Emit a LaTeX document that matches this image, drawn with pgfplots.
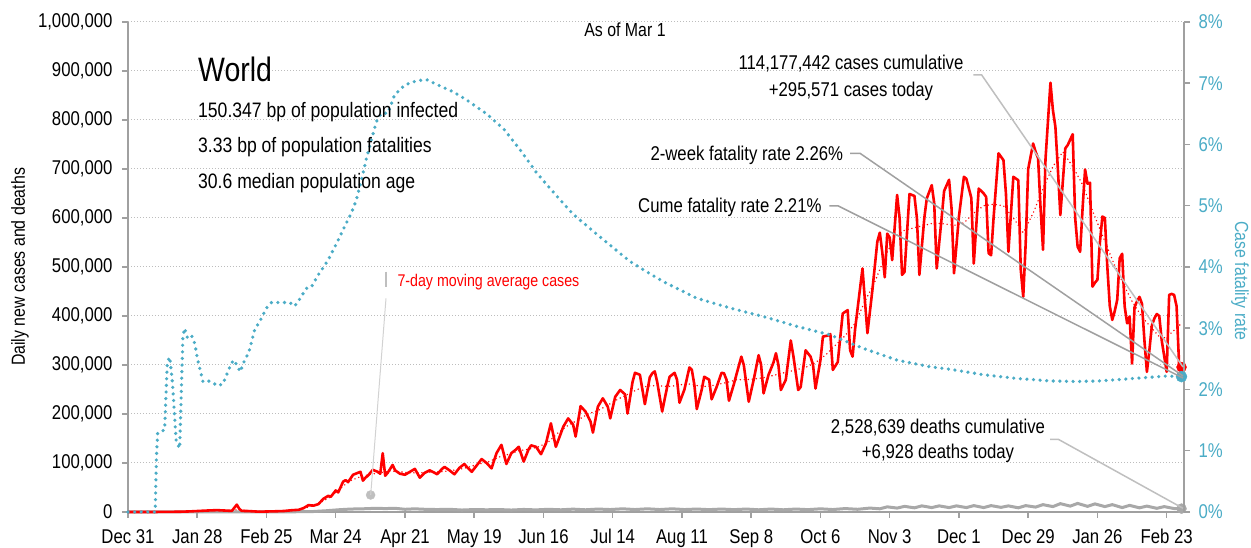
\documentclass[border=0pt]{standalone}
\usepackage{fontspec}
\setmainfont{Liberation Sans}[FakeStretch=0.84]
\usepackage{pgfplots}
\pgfplotsset{compat=1.18}
\definecolor{cfr}{HTML}{4BACC6}
\definecolor{axgray}{HTML}{A0A0A0}
\definecolor{gridgray}{HTML}{BDBDBD}
\definecolor{leader}{HTML}{BFBFBF}
\definecolor{deathgray}{HTML}{A8A8A8}
\newcommand\fs[1]{\fontsize{#1}{#1}\selectfont}

\pgfplotstableread{
d v
0 0
10 0
21 0.5
24 1.0
27 1.7
30 2.5
33 3.2
36 3.8
39 3.0
42 2.3
44 15
45 6.5
46 2.3
49 1.8
53 0.6
56 1.0
60 1.5
63 2.0
66 3.5
69 4.5
71 8
73 14
75 13
77 16
79 27
81 33
82 31
84 44
85 40
87 62
88 65
89 61
91 76
92 78
94 82
95 64
96 70
97 74
99 86
101 82
102 78
103 120
104 74
105 80
107 96
108 85
110 78
112 76
114 82
116 88
118 70
120 80
122 85
124 80
125 77
127 88
128 92
130 85
132 77
134 90
136 98
137 92
139 82
141 95
143 108
145 100
147 89
149 120
151 137
153 98
155 120
157 128
158 133
160 103
162 128
163 136
165 133
167 118
169 140
171 181
173 133
175 160
176 174
178 191
180 178
181 154
183 216
185 205
187 185
188 162
190 215
192 232
194 215
195 191
197 235
199 249
201 240
202 201
204 265
205 284
207 280
209 220
211 275
212 283
213 287
214 265
216 205
218 255
219 276
221 284
222 270
223 223
225 250
227 295
228 290
229 260
230 210
232 250
233 276
235 270
236 230
238 255
240 284
241 283
242 270
243 227
245 261
246 280
248 317
249 300
251 225
253 270
255 320
256 300
257 242
259 280
261 305
262 324
263 300
264 249
266 270
268 350
269 320
271 249
272 255
274 330
276 317
277 300
278 252
280 310
281 358
283 360
284 363
285 290
287 306
289 405
291 412
292 330
293 317
294 373
296 456
297 497
298 430
299 365
301 453
303 552
304 570
305 530
306 479
307 568
308 560
309 514
311 647
312 600
313 484
314 490
316 649
318 645
319 600
320 484
322 600
323 640
325 667
326 630
327 497
329 600
330 655
332 678
333 620
334 487
336 603
338 684
339 680
341 641
342 507
344 660
346 650
347 643
348 528
349 524
350 600
352 732
353 725
354 718
355 650
356 531
358 684
360 677
361 494
362 439
363 550
364 700
366 752
367 735
368 722
369 620
370 535
371 720
373 876
374 820
375 786
376 700
377 606
379 742
380 749
381 760
382 771
383 600
384 541
385 531
386 620
387 699
388 670
389 672
390 460
391 468
392 474
393 550
394 603
395 600
396 500
397 420
398 392
399 410
400 433
401 518
402 527
403 420
404 385
405 399
406 303
407 418
408 430
409 439
410 425
411 350
412 286
413 330
414 380
415 395
416 404
417 400
418 350
420 286
421 443
422 445
423 443
424 420
425 303
426 295.571
}\cases

\pgfplotstableread{
d v
0 0
20 0.3
25 1
30 2.2
35 3.2
40 3.0
44 4.5
48 3.5
52 1.5
56 1.0
60 1.5
65 2.8
70 5
74 12
78 20
81 28
84 40
87 53
90 64
94 72
98 77
102 80
106 84
110 82
114 80
118 80
122 81
126 82
130 84
134 87
138 92
142 98
146 103
150 112
154 118
158 125
162 128
166 133
170 143
174 162
178 177
182 188
186 200
190 207
194 218
198 230
202 240
206 250
210 257
214 258
218 256
222 258
226 262
230 258
234 256
238 260
242 264
246 270
250 270
254 272
258 275
262 280
266 285
270 290
274 295
278 305
282 320
286 340
290 360
294 385
298 430
302 470
306 520
310 560
314 575
318 580
322 585
326 590
330 588
334 585
338 590
342 610
346 625
350 628
354 625
358 600
362 570
366 610
370 660
374 705
378 735
382 705
386 668
390 615
394 565
398 515
402 470
406 430
410 398
414 375
418 352
422 366
426 385
}\ma

\pgfplotstableread{
d v
0 0
20 0.05
30 0.1
40 0.1
44 0.25
50 0.1
60 0.1
70 0.6
75 1.0
80 2.5
85 4.5
90 6
95 6.5
100 7.5
104 7.0
108 7.5
112 5.5
116 6.5
120 5.5
125 5.0
130 5.5
135 4.0
140 5.0
145 4.5
150 5.0
155 4.0
160 5.2
165 4.3
170 5.5
175 4.5
180 5.8
185 4.5
190 6.0
195 5.0
200 6.5
205 5.0
210 6.5
215 5.0
220 6.5
225 5.0
230 6.0
235 4.8
240 6.0
245 4.8
250 6.0
255 4.5
260 6.0
265 4.5
270 6.0
275 4.8
280 6.5
285 5.0
290 7.0
295 5.5
300 8.0
304 6.5
307 10.5
311 8.0
314 11.5
318 8.5
321 12.5
325 9.0
328 12.5
332 9.0
335 12.5
339 9.0
342 13.0
346 9.0
349 13.0
353 9.5
356 12.5
360 8.5
363 13.0
367 10.0
370 15.0
374 11.0
377 17.0
381 12.0
384 17.5
388 11.5
391 16.5
395 11.0
398 15.0
402 9.0
405 13.5
409 8.5
412 12.0
416 7.5
419 11.0
423 7.0
426 6.928
}\deaths

\pgfplotstableread{
d v
0 0
11 0
11.5 0.9
12 1.29
14.8 1.34
15.9 2.45
16.9 2.53
18 2.1
19.5 1.15
20.9 1.04
22.2 2.86
22.9 3.0
24 2.85
25.6 2.89
27 2.75
28.2 2.48
30.3 2.13
31.7 2.15
34 2.12
36.1 2.06
38.4 2.09
41.8 2.43
42.9 2.48
45.4 2.29
47.2 2.48
48.8 2.6
51.2 2.97
53.9 3.16
56 3.33
58 3.42
62.7 3.42
65.4 3.42
67.4 3.36
69.5 3.48
72.1 3.65
74.1 3.67
76.9 3.87
80.9 4.11
85 4.44
87.6 4.66
90.3 4.88
92.3 5.09
94.4 5.42
96.4 5.77
98.4 6.07
100.4 6.37
102.4 6.51
105.1 6.51
107.8 6.81
111.9 6.97
116.6 7.04
120.7 7.06
125.4 6.97
131.5 6.86
136.8 6.73
145 6.5
152 6.25
158.6 5.91
165 5.55
170.7 5.28
180 4.86
190.9 4.49
203 4.09
209.8 3.92
216.5 3.76
230 3.49
243.5 3.33
257 3.19
270.5 3.03
284 2.89
297.4 2.67
310.9 2.48
324.4 2.37
332.5 2.33
346 2.24
359.4 2.18
373 2.14
383.7 2.13
393 2.14
406.6 2.18
420 2.22
426 2.21
}\cfr

\begin{document}
\begin{tikzpicture}[x=1bp,y=1bp]
\useasboundingbox (-128,-36) rectangle (1123,512);
\begin{axis}[
  at={(0,0)}, anchor=south west,
  scale only axis, width=1056bp, height=490bp,
  xmin=0, xmax=427, ymin=0, ymax=1000,
  clip=false,
  axis x line*=bottom, axis y line*=left,
  axis line style={axgray, line width=1.5bp},
  tick style={axgray, line width=1.5bp},
  major tick length=6bp,
  tick align=outside,
  xtick={0,28,...,420},
  xticklabels={Dec 31,Jan 28,Feb 25,Mar 24,Apr 21,May 19,Jun 16,Jul 14,Aug 11,Sep 8,Oct 6,Nov 3,Dec 1,Dec 29,Jan 26,Feb 23},
  ytick={0,100,...,1000},
  yticklabels={0,{100,000},{200,000},{300,000},{400,000},{500,000},{600,000},{700,000},{800,000},{900,000},{1,000,000}},
  xticklabel style={font=\fs{20}, text=black, yshift=-8bp},
  yticklabel style={font=\fs{20}, text=black, xshift=-6bp},
  ymajorgrids,
  grid style={gridgray, line width=1bp, dash pattern=on 1bp off 2bp},
]
\addplot[deathgray, line width=3bp] table[x=d,y=v] {\deaths};
\addplot[red, line width=1.6bp, dash pattern=on 0bp off 4bp, line cap=round] table[x=d,y=v] {\ma};
\addplot[red, line width=2.6bp, line join=round] table[x=d,y=v] {\cases};
\addplot[only marks, mark=*, mark size=5bp, red] coordinates {(426,295.571)};
\addplot[only marks, mark=*, mark size=5bp, deathgray] coordinates {(426,6.928)};
\addplot[only marks, mark=*, mark size=4.5bp, leader] coordinates {(98.1,34.7)};
\end{axis}
\begin{axis}[
  at={(0,0)}, anchor=south west,
  scale only axis, width=1056bp, height=490bp,
  xmin=0, xmax=427, ymin=0, ymax=8,
  clip=false,
  axis x line=none, axis y line*=right,
  axis line style={axgray, line width=1.5bp},
  tick style={axgray, line width=1.5bp},
  major tick length=6bp,
  tick align=outside,
  ytick={0,1,...,8},
  yticklabels={0\%,1\%,2\%,3\%,4\%,5\%,6\%,7\%,8\%},
  yticklabel style={font=\fs{20}, text=cfr, xshift=5bp},
]
\addplot[cfr, line width=3.6bp, dash pattern=on 0bp off 6.6bp, line cap=round] table[x=d,y=v] {\cfr};
\addplot[only marks, mark=*, mark size=5.5bp, cfr] coordinates {(426,2.21)};
\end{axis}
% annotations
\node[font=\fs{19}, anchor=center] at (497,482) {As of Mar 1};
\node[font=\fs{34}, anchor=base west, inner sep=0] at (70,430) {World};
\node[font=\fs{21}, anchor=base west, inner sep=0] at (70,394.7) {150.347 bp of population infected};
\node[font=\fs{21}, anchor=base west, inner sep=0] at (70,359.3) {3.33 bp of population fatalities};
\node[font=\fs{21}, anchor=base west, inner sep=0] at (70,323.7) {30.6 median population age};
\node[font=\fs{20}, anchor=base, inner sep=0] at (723,442) {114,177,442 cases cumulative};
\node[font=\fs{20}, anchor=base, inner sep=0] at (723,415.3) {+295,571 cases today};
\draw[leader, line width=1.5bp] (845.3,437) -- (853.7,437) -- (1055,145);
\node[font=\fs{20}, anchor=base east, inner sep=0] at (715.3,351.3) {2-week fatality rate 2.26\%};
\draw[axgray, line width=1.5bp] (722,358.7) -- (732,358.7) -- (1055,136);
\node[font=\fs{20}, anchor=base east, inner sep=0] at (693.7,299.3) {Cume fatality rate 2.21\%};
\draw[axgray, line width=1.5bp] (701.3,306) -- (710.3,306) -- (1055,134);
\node[font=\fs{20}, anchor=base, inner sep=0] at (810,78) {2,528,639 deaths cumulative};
\node[font=\fs{20}, anchor=base, inner sep=0] at (810,53.7) {+6,928 deaths today};
\draw[leader, line width=1.5bp] (922,72.7) -- (930.3,72.7) -- (1055,3.7);
\node[font=\fs{17}, anchor=base west, inner sep=0, text=red] at (269.3,225.3) {7-day moving average cases};
\draw[leader, line width=1.5bp] (258,240.3) -- (258,225.3);
\draw[leader!70!white, line width=1bp] (258,213.7) -- (242.7,17);
\node[font=\fs{19}, rotate=90, anchor=center] at (-108,245) {Daily new cases and deaths};
\node[font=\fs{19}, rotate=-90, anchor=center, text=cfr] at (1112,231) {Case fatality rate};
\end{tikzpicture}
\end{document}
